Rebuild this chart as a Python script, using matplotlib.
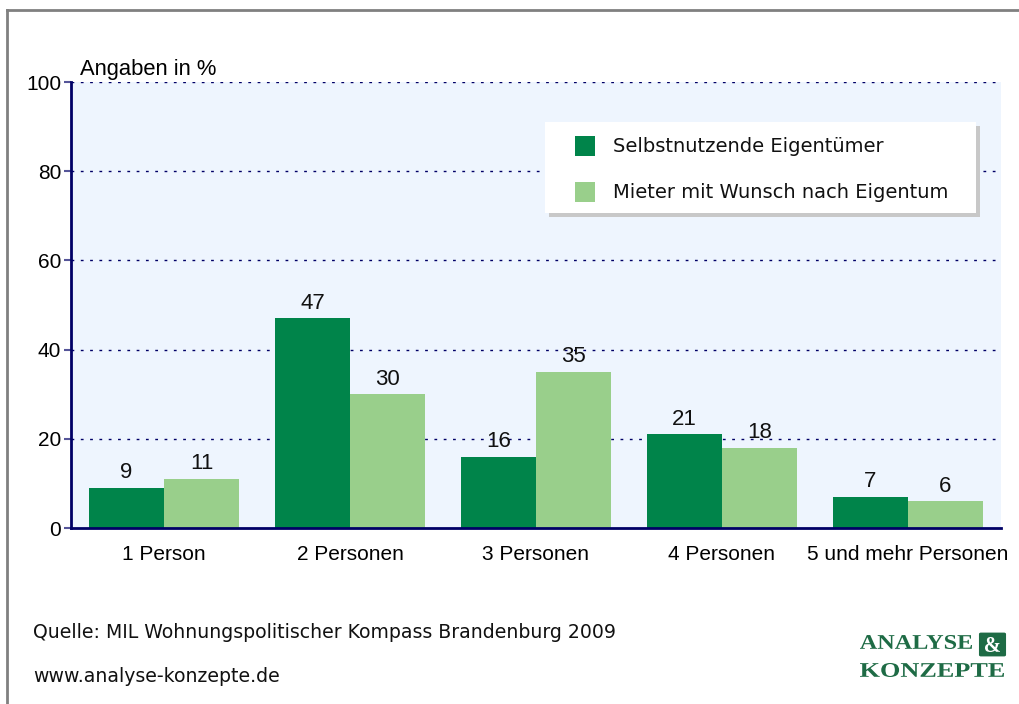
import matplotlib
matplotlib.use("Agg")
import matplotlib.pyplot as plt
import numpy as np
from matplotlib.patches import Rectangle, FancyBboxPatch, PathPatch
from matplotlib.lines import Line2D
from matplotlib.textpath import TextPath
from matplotlib.font_manager import FontProperties
from matplotlib.transforms import Affine2D

categories = ["1 Person", "2 Personen", "3 Personen", "4 Personen", "5 und mehr Personen"]
eigentuemer = [9, 47, 16, 21, 7]
mieter = [11, 30, 35, 18, 6]
series_names = ["Selbstnutzende Eigentümer", "Mieter mit Wunsch nach Eigentum"]
yticks = [0, 20, 40, 60, 80, 100]

dark = "#00844a"
light = "#99cf8b"
navy = "#000066"

plt.rcParams["font.family"] = ["Liberation Sans", "DejaVu Sans"]

fig = plt.figure(figsize=(10.19, 7.04), dpi=100)
fig.patch.set_facecolor("white")

# outer gray frame
fig.add_artist(Line2D([7 / 1019, 7 / 1019], [0, 1 - 10 / 704], color="#808080", lw=2))
fig.add_artist(Line2D([7 / 1019, 1], [1 - 10 / 704, 1 - 10 / 704], color="#808080", lw=2))

ax = fig.add_axes([71 / 1019, 176 / 704, 930 / 1019, 446 / 704])
ax.set_facecolor("#eef5fe")

x = np.arange(len(categories)) + 0.5
w = 0.403
b1 = ax.bar(x - w / 2, eigentuemer, w, color=dark, zorder=3)
b2 = ax.bar(x + w / 2, mieter, w, color=light, zorder=3)

for bars, vals in ((b1, eigentuemer), (b2, mieter)):
    for r, v in zip(bars, vals):
        ax.text(r.get_x() + r.get_width() / 2, v + 1.0, str(v), ha="center", va="bottom",
                fontsize=16, color="#111111", zorder=4)

ax.set_xlim(0, len(categories))
ax.set_ylim(0, 100)
ax.set_yticks(yticks)
ax.set_yticklabels([str(t) for t in yticks], fontsize=15)
ax.set_xticks(x)
ax.set_xticklabels(categories, fontsize=15)
ax.tick_params(axis="x", length=0, pad=12)
ax.tick_params(axis="y", length=5, width=1.5, color="#555599", pad=2)

for t in yticks[1:]:
    ax.axhline(t, color=navy, lw=1, linestyle=(0, (2, 4.7)), zorder=1)

for s in ["top", "right"]:
    ax.spines[s].set_visible(False)
for s in ["left", "bottom"]:
    ax.spines[s].set_color(navy)
    ax.spines[s].set_linewidth(2)
    ax.spines[s].set_zorder(5)

ax.text(0.01, 1.005, "Angaben in %", transform=ax.transAxes, fontsize=15.8, va="bottom", ha="left")


def px(xp, yp):
    return xp / 1019, 1 - yp / 704


# legend box with shadow
sx, sy = px(549, 217)
fig.add_artist(Rectangle((sx, sy), 431 / 1019, 91 / 704, facecolor="#c8c8c8", edgecolor="none", zorder=5))
lx, ly = px(545, 213)
fig.add_artist(Rectangle((lx, ly), 431 / 1019, 91 / 704, facecolor="white", edgecolor="none", zorder=6))
for i, (name, col) in enumerate(zip(series_names, [dark, light])):
    yc = 146 + i * 46
    hx, hy = px(575, yc + 10)
    fig.add_artist(Rectangle((hx, hy), 20 / 1019, 20 / 704, facecolor=col, edgecolor="none", zorder=7))
    tx, ty = px(613, yc)
    fig.text(tx, ty, name, fontsize=14, family=["DejaVu Sans"], va="center", ha="left",
             color="#111111", zorder=8)

# footer
fx, fy = px(33, 632)
fig.text(fx, fy, "Quelle: MIL Wohnungspolitischer Kompass Brandenburg 2009", fontsize=13.6,
         family=["DejaVu Sans"], va="center", ha="left", color="#111111")
fx, fy = px(33, 676)
fig.text(fx, fy, "www.analyse-konzepte.de", fontsize=13.6, family=["DejaVu Sans"],
         va="center", ha="left", color="#111111")

# logo, drawn in pixel coordinates of the figure
logo_col = "#1e6b45"
serif = FontProperties(family="Liberation Serif", weight="bold")


def logo_word(word, x0, x1, ytop, ybot, color):
    tp = TextPath((0, 0), word, size=20, prop=serif)
    ext = tp.get_extents()
    sxf = (x1 - x0) / ext.width
    syf = (ybot - ytop) / ext.height
    tr = (Affine2D().translate(-ext.x0, -ext.y0).scale(sxf, syf)
          .translate(x0, 704 - ybot))
    fig.add_artist(PathPatch(tr.transform_path(tp), facecolor=color, edgecolor="none",
                             transform=None))


logo_word("ANALYSE", 860, 972, 635, 649, logo_col)
logo_word("KONZEPTE", 860, 1004, 663, 677, logo_col)
bx, by = px(981, 655)
fig.add_artist(FancyBboxPatch((bx, by), 23 / 1019, 21 / 704, boxstyle="round,pad=0.002",
                              facecolor=logo_col, edgecolor="none"))
logo_word("&", 985, 1000, 637, 652, "white")

fig.savefig("out.png", dpi=100)
